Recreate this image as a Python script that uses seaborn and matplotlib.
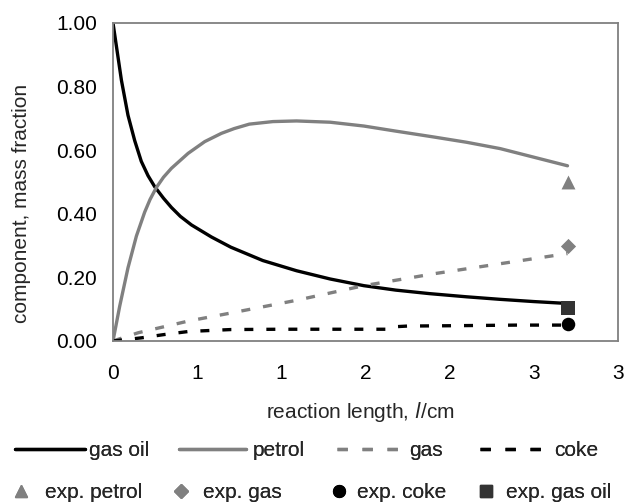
import numpy as np
import pandas as pd
import matplotlib
matplotlib.use("Agg")
import matplotlib.pyplot as plt
import seaborn as sns
from matplotlib.lines import Line2D

# ---- data ----
x_gasoil = [0.0, 0.05, 0.089, 0.129, 0.168, 0.208, 0.248, 0.30, 0.347, 0.40, 0.466, 0.585, 0.70,
            0.89, 1.09, 1.29, 1.49, 1.68, 1.88, 2.1, 2.3, 2.5, 2.7]
y_gasoil = [1.0, 0.82, 0.71, 0.63, 0.565, 0.52, 0.485, 0.449, 0.42, 0.392, 0.365, 0.327, 0.295,
            0.253, 0.221, 0.195, 0.174, 0.16, 0.149, 0.139, 0.131, 0.124, 0.118]

x_petrol = [0.0, 0.04, 0.089, 0.139, 0.188, 0.22, 0.258, 0.30, 0.347, 0.446, 0.545, 0.644, 0.72,
            0.81, 0.95, 1.09, 1.29, 1.49, 1.68, 1.9, 2.1, 2.3, 2.5, 2.7]
y_petrol = [0.0, 0.11, 0.23, 0.33, 0.405, 0.445, 0.483, 0.515, 0.543, 0.59, 0.627, 0.653, 0.668,
            0.682, 0.69, 0.692, 0.688, 0.676, 0.66, 0.642, 0.625, 0.605, 0.578, 0.551]

x_gas = [0.0, 0.15, 0.45, 0.7, 1.09, 1.49, 1.78, 1.9, 2.3, 2.7]
y_gas = [0.0, 0.026, 0.063, 0.088, 0.128, 0.174, 0.20, 0.211, 0.243, 0.275]

x_coke = [0.0, 0.17, 0.3, 0.45, 0.7, 1.0, 1.62, 1.68, 1.75, 2.0, 2.4, 2.7]
y_coke = [0.0, 0.01, 0.02, 0.03, 0.036, 0.037, 0.037, 0.045, 0.047, 0.048, 0.05, 0.05]

exp_x = [2.7, 2.7, 2.7, 2.7]
exp_y = [0.50, 0.30, 0.055, 0.105]
exp_names = ["exp. petrol", "exp. gas", "exp. coke", "exp. gas oil"]
line_names = ["gas oil", "petrol", "gas", "coke"]

x_ticks = [0.0, 0.5, 1.0, 1.5, 2.0, 2.5, 3.0]
x_ticklabels = ["0", "1", "1", "2", "2", "3", "3"]
y_ticks = [0.0, 0.2, 0.4, 0.6, 0.8, 1.0]
y_ticklabels = ["0.00", "0.20", "0.40", "0.60", "0.80", "1.00"]

# ---- style ----
sns.set_theme(style="white")
plt.rcParams["font.family"] = ["Liberation Sans", "DejaVu Sans"]

BLACK = "#000000"
GRAY = "#808080"
DARK = "#333333"
FS = 15
W, H = 624, 504

fig = plt.figure(figsize=(W / 100, H / 100), dpi=100)
ax = fig.add_axes([113 / W, 1 - 341 / H, 505 / W, 318 / H])

lw = 2.4
dash_plot = (0, (2.7, 3.9))
sns.lineplot(x=x_gasoil, y=y_gasoil, ax=ax, color=BLACK, lw=lw, sort=False)
sns.lineplot(x=x_petrol, y=y_petrol, ax=ax, color=GRAY, lw=lw, sort=False)
sns.lineplot(x=x_gas, y=y_gas, ax=ax, color=GRAY, lw=lw, sort=False, linestyle=dash_plot)
sns.lineplot(x=x_coke, y=y_coke, ax=ax, color=BLACK, lw=lw, sort=False, linestyle=dash_plot)

markers = ["^", "D", "o", "s"]
mcolors = [GRAY, GRAY, BLACK, DARK]
msizes = [100, 60, 95, 90]
for xi, yi, m, c, s in zip(exp_x, exp_y, markers, mcolors, msizes):
    sns.scatterplot(x=[xi], y=[yi], ax=ax, marker=m, color=c, s=s, edgecolor=c,
                    linewidth=0, zorder=5)

ax.set_xlim(0, 3.0)
ax.set_ylim(0, 1.0)
ax.set_xticks(x_ticks)
ax.set_xticklabels(x_ticklabels)
ax.set_yticks(y_ticks)
ax.set_yticklabels(y_ticklabels)
for sp in ax.spines.values():
    sp.set_color(GRAY)
    sp.set_linewidth(1.3)
    sp.set_visible(True)
ax.tick_params(axis="both", direction="out", length=4.5, width=1, color=GRAY,
               labelsize=FS, labelcolor="black")
ax.tick_params(axis="y", pad=7)
ax.tick_params(axis="x", pad=12)
ax.set_ylabel("component, mass fraction", fontsize=FS)
ax.set_xlabel("reaction length, $\\it{l}$/cm", fontsize=FS)
ax.yaxis.set_label_coords(-0.162, 0.434)
ax.xaxis.set_label_coords(0.49, -0.184)
ax.grid(False)

# ---- legend: one entry per grid cell, like the reference ----
em = FS * 100 / 72.0  # font size in pixels
dash_leg = (0, (3.1, 4.4))
line_handles = [
    Line2D([], [], color=BLACK, lw=lw),
    Line2D([], [], color=GRAY, lw=lw),
    Line2D([], [], color=GRAY, lw=lw, linestyle=dash_leg),
    Line2D([], [], color=BLACK, lw=lw, linestyle=dash_leg),
]
# (handle start px, handle length px, label start px)
line_cells = [(15, 70, 89), (179, 67, 253), (337, 71, 409), (480, 73, 554)]
for h, lab, (x0, hl, xt) in zip(line_handles, line_names, line_cells):
    lg = fig.legend([h], [lab], loc="center left", bbox_to_anchor=(x0 / W, 1 - 451 / H),
                    frameon=False, fontsize=FS, handlelength=hl / em,
                    handletextpad=(xt - x0 - hl) / em, borderpad=0, borderaxespad=0)
    fig.add_artist(lg)

mk_handles = [Line2D([], [], color=c, marker=m, linestyle="none", markersize=ms)
              for m, c, ms in zip(markers, mcolors, [9, 7, 8.5, 8.5])]
# (marker centre px, label start px)
mk_cells = [(21, 45), (181, 203), (339, 357), (486, 506)]
mk_hl = 20
for h, lab, (xc, xt) in zip(mk_handles, exp_names, mk_cells):
    x0 = xc - mk_hl / 2
    lg = fig.legend([h], [lab], loc="center left", bbox_to_anchor=(x0 / W, 1 - 493 / H),
                    frameon=False, fontsize=FS, handlelength=mk_hl / em,
                    handletextpad=(xt - x0 - mk_hl) / em, borderpad=0, borderaxespad=0)
    fig.add_artist(lg)

fig.savefig("out.png", dpi=100)
